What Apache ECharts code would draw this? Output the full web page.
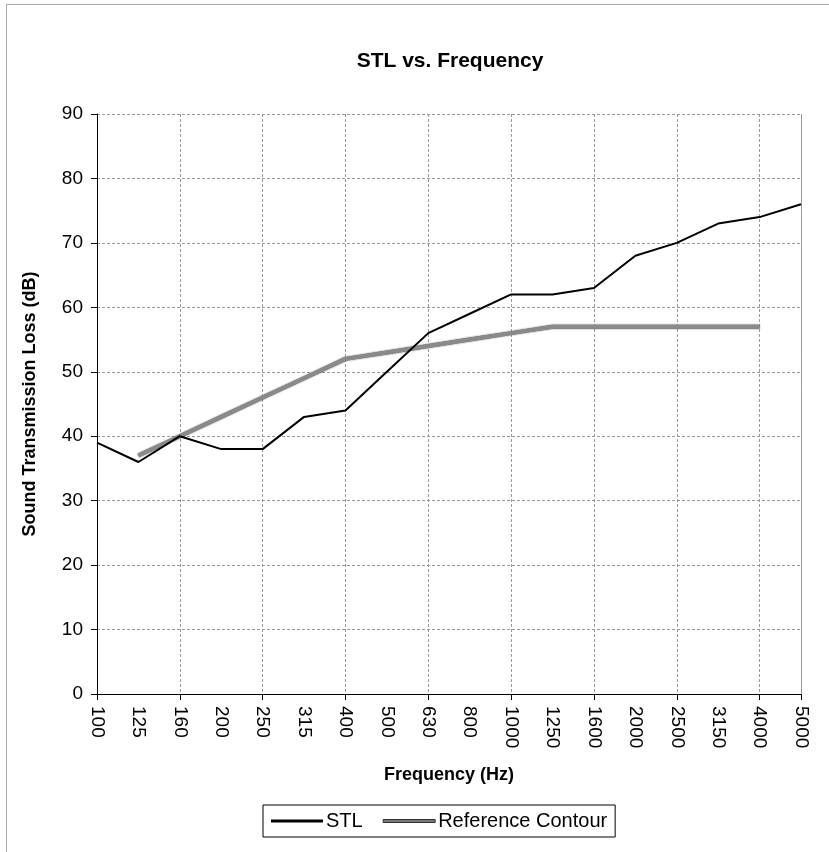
<!DOCTYPE html>
<html>
<head>
<meta charset="utf-8">
<script src="https://cdn.jsdelivr.net/npm/echarts@6/dist/echarts.min.js"></script>
<style>
    html, body {
        margin: 0;
        padding: 0;
        background: #fff;
    }
    #frame {
        position: absolute;
        left: 6px;
        top: 4px;
        width: 829px;
        height: 852px;
        border-left: 1px solid #aaa;
        border-top: 1px solid #aaa;
    }
    #stl_chart {
        position: absolute;
        left: 0;
        top: 0;
        width: 829px;
        height: 852px;
    }
</style>
</head>
<body>
<div id="frame"></div>
<div id="stl_chart"></div>
<script>
// 1/3-octave band centre frequencies
const frequency = ["100", "125", "160", "200", "250", "315", "400", "500", "630",
    "800", "1000", "1250", "1600", "2000", "2500", "3150", "4000", "5000"];

// measured STL (dB)
const stl = [39, 36, 40, 38, 38, 43, 44, 50, 56, 59, 62, 62, 63, 68, 70, 73, 74, 76];

// reference contour (dB), starts at 125 Hz, ends at 4000 Hz
const contour = [null, 37, 40, 43, 46, 49, 52, 53, 54, 55, 56, 57, 57, 57, 57, 57, 57, null];

const yTicks = { min: 0, max: 90, interval: 10 };

let chart = echarts.init(document.getElementById("stl_chart"));
chart.setOption({
    animation: false,
    textStyle: {
        fontFamily: "Liberation Sans, Arial, sans-serif",
    },
    title: {
        text: "STL vs. Frequency",
        left: 445,
        textAlign: "center",
        top: 46,
        textStyle: {
            color: "#000",
            fontSize: 21,
            fontWeight: "bold",
        },
    },
    legend: {
        data: [
            { name: "STL", icon: "rect", itemStyle: { color: "#000" } },
            { name: "Reference Contour", icon: "rect", itemStyle: { color: "#777", borderColor: "#333", borderWidth: 1 } },
        ],
        left: 263,
        top: 805,
        itemWidth: 52,
        itemHeight: 3,
        itemGap: 20,
        padding: [6, 8, 6, 8],
        borderColor: "#000",
        borderWidth: 1,
        textStyle: {
            color: "#000",
            fontSize: 20,
            padding: [0, 0, 0, -2],
        },
    },
    grid: {
        left: 97,
        right: 28,
        top: 114,
        bottom: 158,
    },
    xAxis: {
        type: "category",
        data: frequency,
        boundaryGap: false,
        name: "Frequency (Hz)",
        nameLocation: "middle",
        nameGap: 72,
        nameTextStyle: {
            color: "#000",
            fontSize: 18,
            fontWeight: "bold",
        },
        axisLine: {
            lineStyle: { color: "#000", width: 1 },
        },
        axisTick: {
            interval: 1,
            length: 6,
            lineStyle: { color: "#000" },
        },
        axisLabel: {
            interval: 0,
            rotate: -90,
            color: "#000",
            fontSize: 19,
            margin: 12,
        },
        splitLine: {
            show: true,
            interval: 1,
            lineStyle: { color: "#999", type: [3, 2], width: 1 },
        },
    },
    yAxis: {
        type: "value",
        min: yTicks.min,
        max: yTicks.max,
        interval: yTicks.interval,
        name: "Sound Transmission Loss (dB)",
        nameLocation: "middle",
        nameGap: 58,
        nameTextStyle: {
            color: "#000",
            fontSize: 18,
            fontWeight: "bold",
        },
        axisLine: {
            show: true,
            lineStyle: { color: "#000", width: 1 },
        },
        axisTick: {
            show: true,
            length: 6,
            lineStyle: { color: "#000" },
        },
        axisLabel: {
            color: "#000",
            fontSize: 19,
            margin: 14,
        },
        splitLine: {
            show: true,
            lineStyle: { color: "#999", type: [3, 2], width: 1 },
        },
    },
    series: [
        {
            name: "STL",
            type: "line",
            data: stl,
            symbol: "none",
            color: "#000",
            lineStyle: { color: "#000", width: 2 },
            z: 3,
        },
        {
            name: "Reference Contour",
            type: "line",
            data: contour,
            symbol: "none",
            color: "#888",
            lineStyle: {
                color: "#8a8a8a",
                width: 4,
                shadowColor: "#333",
                shadowBlur: 1.5,
            },
            z: 2,
        },
        {
            // right-hand border of the plot area
            type: "line",
            data: [],
            markLine: {
                silent: true,
                symbol: "none",
                label: { show: false },
                lineStyle: { color: "#999", type: [3, 2], width: 1 },
                data: [{ xAxis: frequency[frequency.length - 1] }],
            },
        },
    ],
});
</script>
</body>
</html>
